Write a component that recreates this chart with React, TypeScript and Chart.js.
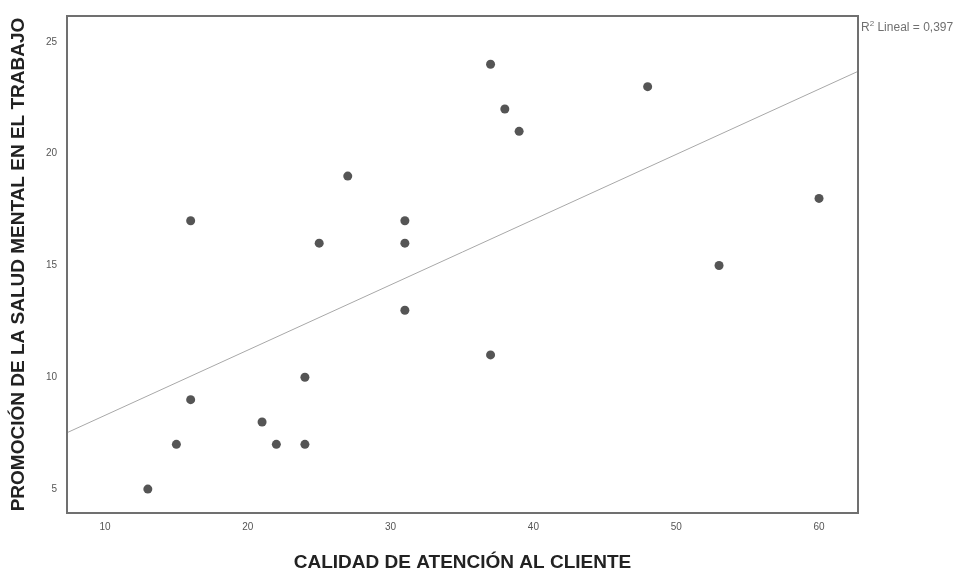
import React, { useEffect, useRef } from "react";
import { Chart, registerables } from "chart.js";

Chart.register(...registerables);

const calidadAtencion = [13, 15, 16, 16, 21, 22, 24, 24, 25, 27, 31, 31, 31, 37, 37, 38, 39, 48, 53, 60];
const promocionSalud = [5, 7, 9, 17, 8, 7, 10, 7, 16, 19, 17, 16, 13, 24, 11, 22, 21, 23, 15, 18];
const xTicks = [10, 20, 30, 40, 50, 60];
const yTicks = [5, 10, 15, 20, 25];
const xRange = [7.34, 62.73];
const yRange = [3.93, 26.16];
const xTitle = "CALIDAD DE ATENCIÓN AL CLIENTE";
const yTitle = "PROMOCIÓN DE LA SALUD MENTAL EN EL TRABAJO";
const r2Label = "0,397";

function fitLine(xs: number[], ys: number[]) {
  const n = xs.length;
  const mx = xs.reduce((a, b) => a + b, 0) / n;
  const my = ys.reduce((a, b) => a + b, 0) / n;
  let sxy = 0, sxx = 0;
  for (let i = 0; i < n; i++) {
    sxy += (xs[i] - mx) * (ys[i] - my);
    sxx += (xs[i] - mx) * (xs[i] - mx);
  }
  const b = sxy / sxx;
  const a = my - b * mx;
  return { a, b };
}

export default function App() {
  const ref = useRef<HTMLCanvasElement | null>(null);
  useEffect(() => {
    document.body.style.margin = "0";
    const canvas = ref.current!;
    const { a, b } = fitLine(calidadAtencion, promocionSalud);
    const linePts = xRange.map((x) => ({ x, y: a + b * x }));
    const scatterPts = calidadAtencion.map((x, i) => ({ x, y: promocionSalud[i] }));

    const framePlugin = {
      id: "frame",
      afterDatasetsDraw(chart: any) {
        const { ctx, chartArea } = chart;
        ctx.save();
        ctx.strokeStyle = "#707070";
        ctx.lineWidth = 2;
        ctx.strokeRect(chartArea.left, chartArea.top, chartArea.right - chartArea.left, chartArea.bottom - chartArea.top);
        // R² label
        const x0 = chartArea.right + 3;
        const y0 = chartArea.top + 12;
        ctx.fillStyle = "#707070";
        ctx.textBaseline = "middle";
        ctx.textAlign = "left";
        ctx.font = "12px 'Liberation Sans', Arial, sans-serif";
        ctx.fillText("R", x0, y0);
        const w1 = ctx.measureText("R").width;
        ctx.font = "8px 'Liberation Sans', Arial, sans-serif";
        ctx.fillText("2", x0 + w1, y0 - 4);
        const w2 = ctx.measureText("2").width;
        ctx.font = "12px 'Liberation Sans', Arial, sans-serif";
        ctx.fillText(" Lineal = " + r2Label, x0 + w1 + w2, y0);
        ctx.restore();
      },
    };

    const chart = new Chart(canvas, {
      type: "scatter",
      data: {
        datasets: [
          {
            type: "line",
            data: linePts,
            borderColor: "#a8a8a8",
            borderWidth: 1,
            pointRadius: 0,
            fill: false,
          } as any,
          {
            type: "scatter",
            data: scatterPts,
            backgroundColor: "#555555",
            borderColor: "#555555",
            borderWidth: 0,
            pointRadius: 4.5,
          },
        ],
      },
      options: {
        animation: false,
        responsive: false,
        maintainAspectRatio: false,
        layout: { padding: { top: 14, right: 101, left: 0, bottom: 0 } },
        plugins: { legend: { display: false }, tooltip: { enabled: false } },
        scales: {
          x: {
            type: "linear",
            min: xRange[0],
            max: xRange[1],
            grid: { display: false, drawTicks: false },
            border: { display: false },
            afterBuildTicks: (s: any) => {
              s.ticks = xTicks.map((v) => ({ value: v }));
            },
            afterFit: (s: any) => {
              s.height = 59;
            },
            ticks: {
              padding: 8,
              color: "#555555",
              font: { family: "'Liberation Sans', Arial, sans-serif", size: 10 },
            },
            title: {
              display: true,
              text: xTitle,
              color: "#222222",
              padding: { top: 0, bottom: -2 },
              font: { family: "'Liberation Sans', Arial, sans-serif", size: 19, weight: "bold" },
            },
          },
          y: {
            type: "linear",
            min: yRange[0],
            max: yRange[1],
            grid: { display: false, drawTicks: false },
            border: { display: false },
            afterBuildTicks: (s: any) => {
              s.ticks = yTicks.map((v) => ({ value: v }));
            },
            afterFit: (s: any) => {
              s.width = 67;
            },
            ticks: {
              padding: 10,
              color: "#555555",
              font: { family: "'Liberation Sans', Arial, sans-serif", size: 10 },
            },
            title: {
              display: true,
              text: yTitle,
              color: "#222222",
              padding: { top: 7, bottom: 0 },
              font: { family: "'Liberation Sans', Arial, sans-serif", size: 19, weight: "bold" },
            },
          },
        },
      },
      plugins: [framePlugin],
    });
    return () => chart.destroy();
  }, []);
  return <canvas ref={ref} width={959} height={572} style={{ display: "block" }} />;
}
